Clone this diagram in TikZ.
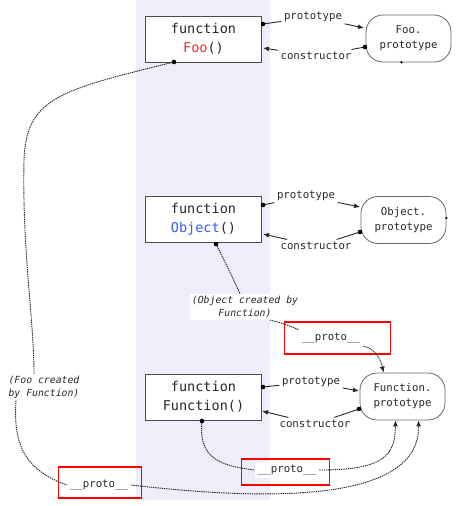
\documentclass[tikz,border=0pt]{standalone}
\usepackage{fontspec}
\setmonofont{DejaVu Sans Mono}[ItalicFont={DejaVu Sans Mono Oblique}]
\usetikzlibrary{arrows.meta,calc}
\definecolor{band}{RGB}{238,238,251}
\definecolor{fooRed}{RGB}{232,50,40}
\definecolor{objBlue}{RGB}{55,95,225}
\definecolor{ink}{RGB}{40,40,40}
\tikzset{
  fbox/.style={draw=black!70, fill=white, line width=0.9pt, minimum width=116pt, minimum height=46pt, align=center, text=ink, font=\ttfamily\fontsize{13.5}{19}\selectfont, inner sep=0pt},
  pbox/.style={draw=black!60, fill=white, line width=0.8pt, rounded corners=17pt, minimum width=85pt, minimum height=47pt, align=center, text=ink, font=\ttfamily\fontsize{10.7}{15}\selectfont, inner sep=0pt},
  lab/.style={text=ink, font=\ttfamily\fontsize{10.7}{13}\selectfont, inner sep=2.5pt},
  ilab/.style={text=ink, font=\ttfamily\itshape\fontsize{9.8}{13}\selectfont, fill=white, inner sep=2pt},
  plab/.style={text=ink, font=\ttfamily\fontsize{10.7}{13}\selectfont, fill=white, inner sep=3pt},
  redbox/.style={draw=red, line width=1.5pt, inner sep=0pt},
  solidc/.style={draw=ink, line width=0.9pt},
  dotc/.style={draw=ink, line width=0.9pt, dash pattern=on 1.4pt off 0.8pt},
  aend/.style={-{Latex[length=6pt,width=5pt]}},
  dotmark/.style={fill=black},
}
\begin{document}
\begin{tikzpicture}[x=1pt,y=-1pt]
\useasboundingbox (0,0) rectangle (461,506);
\fill[band] (136,0) rectangle (270,500);

% red boxes
\node[redbox, minimum width=106pt, minimum height=32pt] (r1) at (337.5,338) {};
\node[redbox, minimum width=88pt, minimum height=26pt] (r2) at (285.5,472) {};
\node[redbox, minimum width=83pt, minimum height=31pt] (r3) at (100,482.5) {};

% main boxes
\node[fbox] (foo) at (203.5,39) {function\\\textcolor{fooRed}{Foo}()};
\node[fbox] (obj) at (203.5,219) {function\\\textcolor{objBlue}{Object}()};
\node[fbox] (fun) at (203.5,397) {function\\Function()};

\node[pbox] (fooP) at (408.5,38.5) {Foo.\\prototype};
\node[pbox] (objP) at (403.5,220) {Object.\\prototype};
\node[pbox] (funP) at (402.5,396.5) {Function.\\prototype};

% labels
\node[lab] (lp1) at (313,17) {prototype};
\node[lab] (lc1) at (316,56) {constructor};
\node[lab] (lp2) at (306,196) {prototype};
\node[lab] (lc2) at (316,246) {constructor};
\node[lab] (lp3) at (311,382) {prototype};
\node[lab] (lc3) at (315,424) {constructor};

\node[ilab, align=center] (oc) at (245,307) {(Object created by\\Function)};
\node[ilab, align=left] (fc) at (44,387) {(Foo created\\by Function)};

\node[plab] (pr1) at (331,338) {\_\_proto\_\_};
\node[plab] (pr2) at (287,470) {\_\_proto\_\_};
\node[plab] (pr3) at (99,485) {\_\_proto\_\_};

% dot coordinates
\coordinate (d1) at (263,24);
\coordinate (e1) at (364,28);
\coordinate (d2) at (365,47);
\coordinate (e2) at (263,48);
\coordinate (d3) at (263,205);
\coordinate (e3) at (360,207);
\coordinate (d4) at (360,232);
\coordinate (e4) at (263,234);
\coordinate (d5) at (263,387);
\coordinate (e5) at (359,391);
\coordinate (d6) at (359,409);
\coordinate (e6) at (262,411);
\coordinate (fd) at (174,62);
\coordinate (od) at (216,244);
\coordinate (ud) at (202,421);

% prototype / constructor connectors
\draw[solidc] (d1) -- (lp1);
\draw[solidc, aend] (lp1) -- (e1);
\draw[solidc] (d2) -- (lc1);
\draw[solidc, aend] (lc1) -- (e2);
\draw[solidc] (d3) -- (lp2);
\draw[solidc, aend] (lp2) -- (e3);
\draw[solidc] (d4) -- (lc2);
\draw[solidc, aend] (lc2) -- (e4);
\draw[solidc] (d5) -- (lp3);
\draw[solidc, aend] (lp3) -- (e5);
\draw[solidc] (d6) -- (lc3);
\draw[solidc, aend] (lc3) -- (e6);

% Foo __proto__
\draw[dotc] (fd) .. controls (60,90) and (26,98) .. (24,160)
  .. controls (22,250) and (34,320) .. ($(fc.north)+(-10,0)$);
\draw[dotc] ($(fc.south)+(-28,0)$) .. controls (13,445) and (25,470) .. (pr3.west);
\draw[dotc, aend] (pr3.east) .. controls (260,500) and (420,505) .. ($(funP.south)+(16,0)$);

% Object __proto__
\draw[dotc] (od) .. controls (225,262) and (234,280) .. ($(oc.north)+(-5,0)$);
\draw[dotc] ($(oc.south)+(25,0)$) .. controls (285,324) .. (pr1.north west);
\draw[dotc, aend] (pr1.south east) .. controls (375,348) and (381,360) .. ($(funP.north)+(-19,0)$);

% Function __proto__
\draw[dotc] (ud) .. controls (198,458) and (220,466) .. (pr2.west);
\draw[dotc, aend] (pr2.east) .. controls (385,470) and (395,455) .. ($(funP.south)+(-7,0)$);

% dots
\foreach \p in {d1,d2,d3,d4,d5,d6,fd,od,ud} \fill[dotmark] (\p) circle (2.3pt);
\fill[dotmark] ($(fooP.south)+(-7,0)$) circle (1.3pt);
\fill[dotmark] ($(objP.east)+(0,-2)$) circle (1.3pt);
\end{tikzpicture}
\end{document}
